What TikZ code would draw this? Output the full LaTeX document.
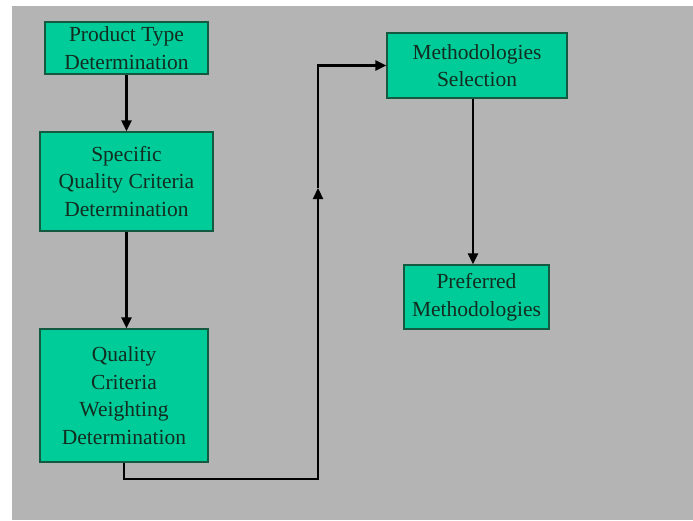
\documentclass[tikz,border=0pt]{standalone}
\usepackage{fontspec}
\setmainfont{Liberation Serif}
\usetikzlibrary{arrows.meta}

\definecolor{slidegray}{RGB}{180,180,180}
\definecolor{boxgreen}{RGB}{0,204,153}
\definecolor{boxline}{RGB}{20,90,65}
\definecolor{boxtext}{RGB}{18,45,32}

\tikzset{
    stage/.style={draw=boxline, line width=1.2pt, fill=boxgreen, text=boxtext,
        align=center, inner sep=0pt,
        font=\fontsize{21.5}{27.5}\selectfont},
    flow/.style={line width=2.3pt, -{Triangle[length=11pt,width=10pt]}}
}

\begin{document}
\begin{tikzpicture}[x=1pt,y=-1pt]
        % Page and slide background
        \useasboundingbox (0,0) rectangle (693,520);
        \fill[white] (0,0) rectangle (693,520);
        \fill[slidegray] (12,6) rectangle (693,520);

        % Left column of stages
        \node[stage, minimum width=163pt, minimum height=52pt] (ptype) at (126.5,48)
            {Product Type\\Determination};
        \node[stage, minimum width=173pt, minimum height=99pt] (specq) at (126.5,181.5)
            {Specific\\Quality Criteria\\Determination};
        \node[stage, minimum width=168pt, minimum height=133pt] (weight) at (124,395.5)
            {Quality\\Criteria\\Weighting\\Determination};

        % Right column of stages
        \node[stage, minimum width=180pt, minimum height=65pt] (msel) at (477,65.5)
            {Methodologies\\Selection};
        \node[stage, minimum width=145pt, minimum height=64pt] (pref) at (476.5,297)
            {Preferred\\Methodologies};

        % Arrows down the left column
        \draw[flow] (ptype) -- (specq);
        \draw[flow] (specq.south -| ptype.south) -- (weight.north -| ptype.south);

        % Return path to the selection stage
        \coordinate (turn) at (318,479);
        \coordinate (mid) at (318,188);
        \draw[flow] (weight.south) |- (turn) -- (mid);
        \draw[flow] (mid) |- (msel.west);

        % Selection to preferred
        \draw[flow] (msel.south -| 473,0) -- (pref.north -| 473,0);
    \end{tikzpicture}
\end{document}
